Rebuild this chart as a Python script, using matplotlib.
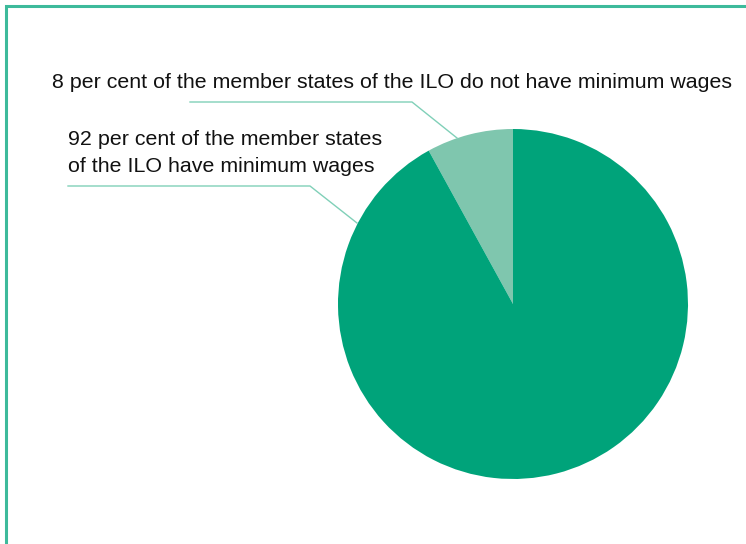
import matplotlib.pyplot as plt

# data
shares = [8, 92]
labels = ["8 per cent of the member states of the ILO do not have minimum wages",
          "92 per cent of the member states\nof the ILO have minimum wages"]
colors = ["#7fc6ae", "#00a37a"]

W, H = 746, 544
fig = plt.figure(figsize=(W / 100, H / 100), dpi=100)
ax = fig.add_axes([0, 0, 1, 1])

# pie, centre and radius in pixel units
cx, cy, r = 513, H - 304, 175
ax.pie(shares, colors=colors, startangle=90, counterclock=True,
       center=(cx, cy), radius=r, frame=True,
       wedgeprops=dict(linewidth=0))
ax.set_xlim(0, W)
ax.set_ylim(0, H)
ax.set_aspect("equal")
ax.axis("off")

# frame of the box (left and top only)
ax.plot([6, 6, W], [0, H - 6, H - 6], color="#3dba9b", lw=2.2,
        solid_joinstyle="miter", clip_on=False)

# labels and leader lines
fs = 15.4
txt = dict(fontsize=fs, family="Liberation Sans", ha="left", va="baseline", color="#111111")
line_col = "#80d0b8"
ax.text(52, H - 88, labels[0], **txt)
ax.plot([190, 412, 457], [H - 102, H - 102, H - 138], color=line_col, lw=1)

first, second = labels[1].split("\n")
ax.text(68, H - 145, first, **txt)
ax.text(68, H - 172, second, **txt)
ax.plot([68, 310, 357], [H - 186, H - 186, H - 223], color=line_col, lw=1)

fig.savefig("out.png", dpi=100)
